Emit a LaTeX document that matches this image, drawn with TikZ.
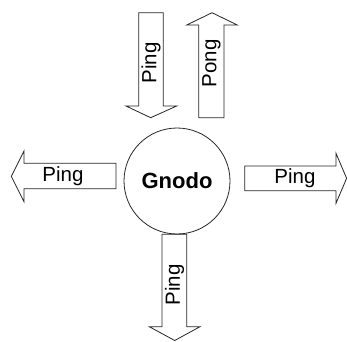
\documentclass[tikz,border=0pt]{standalone}
\usepackage{fontspec}
\setmainfont{Liberation Sans}
\begin{document}
\begin{tikzpicture}[x=1pt,y=-1pt,
  arr/.style={draw=black!85,line width=0.8pt,fill=white,line join=miter},
  lbl/.style={font=\fontsize{20.5}{24}\selectfont,inner sep=0pt},
  hub/.style={circle,draw=black!85,line width=0.8pt,minimum size=106pt,inner sep=0pt,font=\fontsize{22}{26}\selectfont\bfseries}]
\useasboundingbox (0,0) rectangle (347,341);
% top-left down arrow
\draw[arr] (138.7,12.7) -- (163.3,12.7) -- (163.3,106) -- (176.7,106) -- (150.7,117.7) -- (126,106) -- (138.7,106) -- cycle;
% Pong up arrow
\draw[arr] (198.7,117.7) -- (224,117.7) -- (224,25) -- (237.3,25) -- (212,12.7) -- (186.7,25) -- (198.7,25) -- cycle;
% left arrow
\draw[arr] (116,163.3) -- (116,188.7) -- (24,188.7) -- (24,201.7) -- (11.3,176.3) -- (24,151) -- (24,163.3) -- cycle;
% right arrow
\draw[arr] (244.7,166) -- (244.7,190.7) -- (336,190.7) -- (336,203.3) -- (346.6,178.3) -- (336,153.3) -- (336,166) -- cycle;
% bottom arrow
\draw[arr] (162,234.3) -- (186.7,234.3) -- (186.7,326.7) -- (200,326.7) -- (174.7,340.5) -- (149.3,326.7) -- (162,326.7) -- cycle;
% hub
\node[hub] (gnodo) at (177,181) {Gnodo};
% labels
\node[lbl,rotate=90] (ping1) at (151,63) {Ping};
\node[lbl,rotate=90] (pong) at (211.5,63.5) {Pong};
\node[lbl] (ping2) at (63,176.5) {Ping};
\node[lbl] (ping3) at (295,178.5) {Ping};
\node[lbl,rotate=90] (ping4) at (174.5,285) {Ping};
\end{tikzpicture}
\end{document}
